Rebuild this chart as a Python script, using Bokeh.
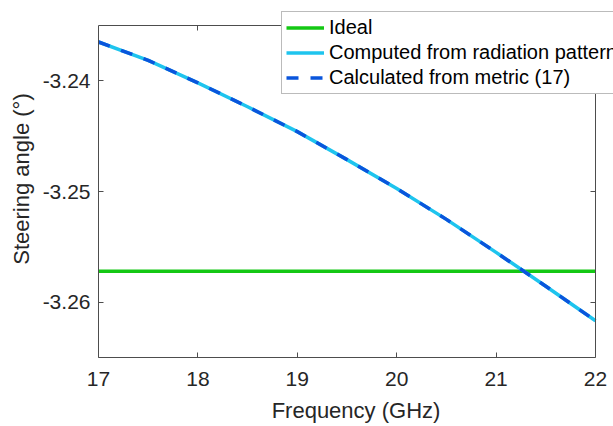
from bokeh.plotting import figure
from bokeh.models import Range1d, FixedTicker, LinearAxis, Legend, LegendItem, CustomJSTickFormatter
from bokeh.embed import file_html
from bokeh.resources import INLINE

# Data
freq = [17.0, 17.5, 18.0, 18.5, 19.0, 19.5, 20.0, 20.5, 21.0, 21.5, 22.0]
computed = [-3.23649, -3.23815, -3.24018, -3.24234, -3.24459, -3.24712, -3.24973,
            -3.25252, -3.25550, -3.25856, -3.26168]
metric = [-3.23649, -3.23815, -3.24018, -3.24234, -3.24459, -3.24712, -3.24973,
          -3.25252, -3.25550, -3.25856, -3.26168]
ideal_value = -3.2572
ideal_x = [17.0, 22.0]
ideal_y = [ideal_value, ideal_value]
x_ticks = [17, 18, 19, 20, 21, 22]
y_ticks = [-3.26, -3.25, -3.24]
x_lim = (17, 22)
y_lim = (-3.265, -3.235)

FONT = "Liberation Sans"
AX = "#4d4d4d"
TXT = "#262626"

# frame extends to the top and right edge of the canvas so that the legend
# (which overhangs the axes box, as in the reference) is not clipped there;
# the axes box itself is drawn with bounded axes at the data limits.
px_per_x = 497 / (x_lim[1] - x_lim[0])
px_per_y = 332 / (y_lim[1] - y_lim[0])
x_end = x_lim[1] + 18 / px_per_x
y_end = y_lim[0] + 357 / px_per_y

p = figure(width=613, height=426, output_backend="svg", toolbar_location=None,
           x_range=Range1d(x_lim[0], x_end), y_range=Range1d(y_lim[0], y_end),
           min_border_left=98, min_border_right=0, min_border_top=0,
           min_border_bottom=69, background_fill_color="white",
           border_fill_color="white")
p.grid.visible = False
p.outline_line_color = None

r_ideal = p.line(ideal_x, ideal_y, line_color="#14c814", line_width=3.5)
r_comp = p.line(freq, computed, line_color="#1ec4ee", line_width=3.5)
r_met = p.line(freq, metric, line_color="#0a55dc", line_width=3.5, line_dash="12 12")

ytick_fmt = CustomJSTickFormatter(code="return tick.toFixed(2)")
xtick_fmt = CustomJSTickFormatter(code="return tick.toFixed(0)")

for ax in (p.xaxis[0], p.yaxis[0]):
    ax.axis_line_color = AX
    ax.major_tick_line_color = AX
    ax.major_tick_in = 5
    ax.major_tick_out = 0
    ax.minor_tick_line_color = None
    ax.major_label_text_font = FONT
    ax.major_label_text_font_size = "21px"
    ax.major_label_text_color = TXT
    ax.axis_label_text_font = FONT
    ax.axis_label_text_font_size = "22px"
    ax.axis_label_text_font_style = "normal"
    ax.axis_label_text_color = TXT

p.xaxis[0].ticker = FixedTicker(ticks=x_ticks)
p.yaxis[0].ticker = FixedTicker(ticks=y_ticks)
p.xaxis[0].formatter = xtick_fmt
p.yaxis[0].formatter = ytick_fmt
p.xaxis[0].bounds = x_lim
p.yaxis[0].bounds = y_lim
p.xaxis[0].axis_label = "Frequency (GHz)"
p.yaxis[0].axis_label = "Steering angle (°)"
p.xaxis[0].major_label_standoff = 14
p.xaxis[0].axis_label_standoff = 9
p.yaxis[0].major_label_standoff = 8
p.yaxis[0].axis_label_standoff = 6

blank = CustomJSTickFormatter(code="return ''")
top = LinearAxis(ticker=FixedTicker(ticks=x_ticks), formatter=blank,
                 axis_line_color=AX, major_tick_line_color=AX,
                 major_tick_in=5, major_tick_out=0, minor_tick_line_color=None,
                 major_label_standoff=0, bounds=x_lim, fixed_location=y_lim[1])
right = LinearAxis(ticker=FixedTicker(ticks=y_ticks), formatter=blank,
                   axis_line_color=AX, major_tick_line_color=AX,
                   major_tick_in=5, major_tick_out=0, minor_tick_line_color=None,
                   major_label_standoff=0, bounds=y_lim, fixed_location=x_lim[1])
p.add_layout(top, "above")
p.add_layout(right, "right")

legend = Legend(items=[
    LegendItem(label="Ideal", renderers=[r_ideal]),
    LegendItem(label="Computed from radiation pattern", renderers=[r_comp]),
    LegendItem(label="Calculated from metric (17)", renderers=[r_met]),
], location=(183, 263))
legend.label_text_font = FONT
legend.label_text_font_size = "20px"
legend.label_text_color = "#000000"
legend.glyph_width = 38
legend.glyph_height = 21
legend.label_height = 21
legend.label_standoff = 5
legend.spacing = 2
legend.padding = 4
legend.margin = 0
legend.border_line_color = "#777777"
legend.border_line_width = 1
legend.background_fill_color = "white"
legend.background_fill_alpha = 1
p.add_layout(legend, "center")

open("out.html", "w").write(file_html(p, INLINE))
